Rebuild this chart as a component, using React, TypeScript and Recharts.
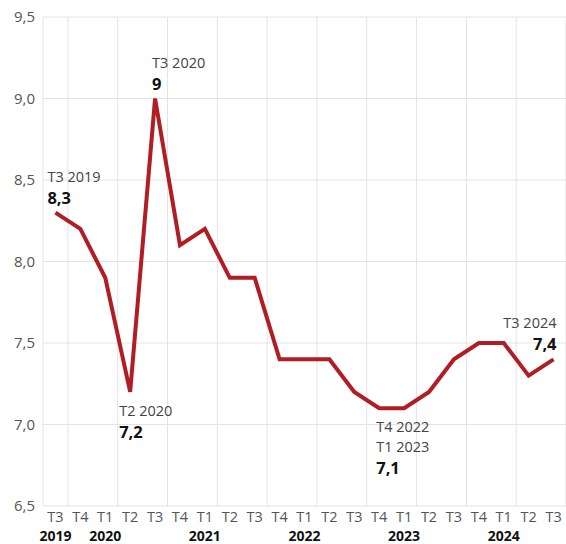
import { LineChart, Line, XAxis, YAxis, CartesianGrid, LabelList } from 'recharts'

const quarters = ['T3', 'T4', 'T1', 'T2', 'T3', 'T4', 'T1', 'T2', 'T3', 'T4', 'T1', 'T2', 'T3', 'T4', 'T1', 'T2', 'T3', 'T4', 'T1', 'T2', 'T3']
const years = ['2019', '', '2020', '', '', '', '2021', '', '', '', '2022', '', '', '', '2023', '', '', '', '2024', '', '']
const rates = [8.3, 8.2, 7.9, 7.2, 9.0, 8.1, 8.2, 7.9, 7.9, 7.4, 7.4, 7.4, 7.2, 7.1, 7.1, 7.2, 7.4, 7.5, 7.5, 7.3, 7.4]
const yTicks = [6.5, 7.0, 7.5, 8.0, 8.5, 9.0, 9.5]

// callouts: which point, period text, bold value
const calloutIdx = [0, 3, 4, 13, 20]
const calloutPeriods = [['T3 2019'], ['T2 2020'], ['T3 2020'], ['T4 2022', 'T1 2023'], ['T3 2024']]
const calloutValues = ['8,3', '7,2', '9', '7,1', '7,4']

// placement of each callout relative to its point
const calloutPlace = [
  { dir: 'up', dx: -8, anchor: 'start' },
  { dir: 'down', dx: -11, anchor: 'start' },
  { dir: 'up', dx: -3, anchor: 'start' },
  { dir: 'down', dx: -3, anchor: 'start' },
  { dir: 'up', dx: 3, anchor: 'end' },
]

const FONT = '"Open Sans", sans-serif'
const RED = '#b11d24'

const data = rates.map((v, i) => ({ i, rate: v }))
const idxTicks = rates.map((_, i) => i)
const gridTicks = [...rates.map((_, i) => i - 0.5), rates.length - 0.5]

function QuarterTick(props: any) {
  const { x, y, payload } = props
  const i = payload.value
  return (
    <g>
      <text x={x} y={y + 8} textAnchor="middle" fontFamily={FONT} fontSize={14.5} fill="#555">
        {quarters[i]}
      </text>
      {years[i] && (
        <text x={x} y={y + 27} textAnchor="middle" fontFamily={FONT} fontSize={14} fontWeight={700} fill="#111">
          {years[i]}
        </text>
      )}
    </g>
  )
}

function Callout(props: any) {
  const { x, y, index } = props
  const k = calloutIdx.indexOf(index)
  if (k < 0) return null
  const lines = calloutPeriods[k]
  const place = calloutPlace[k]
  const tx = x + place.dx
  let periodY: number[]
  let valueY: number
  if (place.dir === 'up') {
    valueY = y - 9
    periodY = lines.map((_, j) => y - 31 - (lines.length - 1 - j) * 20)
  } else {
    periodY = lines.map((_, j) => y + 24 + j * 20)
    valueY = y + 24 + (lines.length - 1) * 20 + 22
  }
  return (
    <g>
      {lines.map((t, j) => (
        <text key={j} x={tx} y={periodY[j]} textAnchor={place.anchor} fontFamily={FONT} fontSize={14.5} fill="#444">
          {t}
        </text>
      ))}
      <text x={tx} y={valueY} textAnchor={place.anchor} fontFamily={FONT} fontSize={16.5} fontWeight={700} fill="#111">
        {calloutValues[k]}
      </text>
    </g>
  )
}

export default function App() {
  return (
    <div style={{ position: 'absolute', left: 0, top: 0, background: '#fff' }}>
      <LineChart width={566} height={544} data={data} margin={{ top: 17, right: 0, left: 0, bottom: 0 }}>
        <CartesianGrid xAxisId="grid" stroke="#e4e4e4" strokeWidth={1} />
        <XAxis
          xAxisId="grid"
          type="number"
          dataKey="i"
          domain={[-0.5, rates.length - 0.5]}
          ticks={gridTicks}
          hide
        />
        <XAxis
          type="number"
          dataKey="i"
          domain={[-0.5, rates.length - 0.5]}
          ticks={idxTicks}
          interval={0}
          axisLine={false}
          tickLine={false}
          tick={<QuarterTick />}
          height={38}
        />
        <YAxis
          domain={[6.5, 9.5]}
          ticks={yTicks}
          width={43}
          axisLine={false}
          tickLine={false}
          tick={{ fontFamily: FONT, fontSize: 15, fill: '#555' }}
          tickFormatter={(v: number) => v.toFixed(1).replace('.', ',')}
        />
        <Line
          type="linear"
          dataKey="rate"
          stroke={RED}
          strokeWidth={4}
          dot={false}
          isAnimationActive={false}
        >
          <LabelList dataKey="rate" content={<Callout />} />
        </Line>
      </LineChart>
    </div>
  )
}
